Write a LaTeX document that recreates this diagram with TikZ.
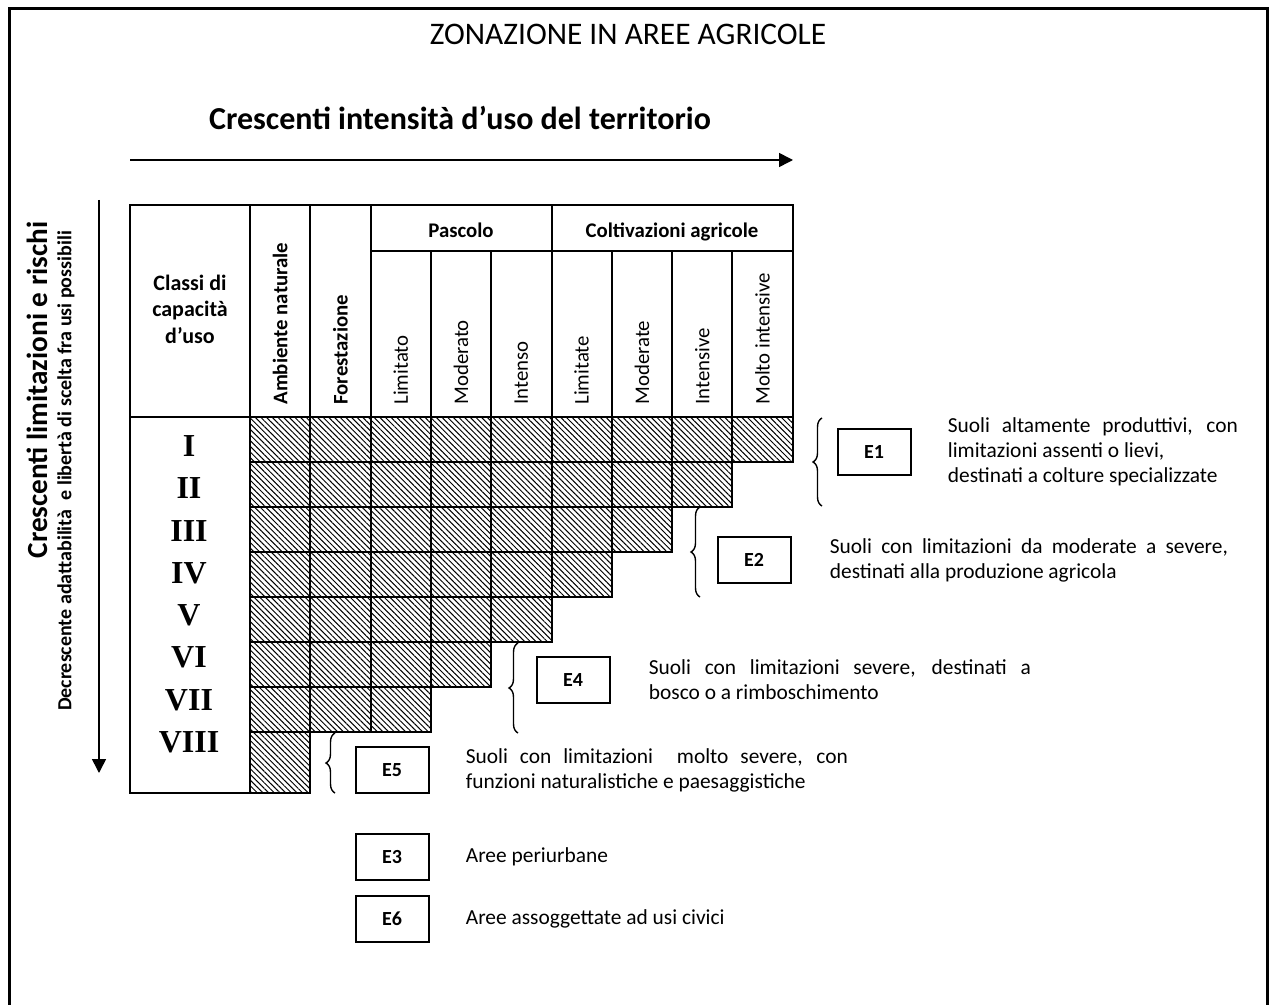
\documentclass[tikz,border=0pt]{standalone}
\usepackage{fontspec}
\setmainfont{Carlito}
\newfontfamily\numfont{Liberation Serif}
\usetikzlibrary{positioning,arrows.meta,patterns.meta,decorations.pathreplacing}

\begin{document}
\begin{tikzpicture}[
    x=0.5pt, y=-0.5pt,
    frame/.style={line width=1.5pt},
    grid/.style={line width=1pt},
    hatch/.style={draw, line width=1pt, pattern={Lines[angle=-45,distance=2pt,line width=0.5pt]}},
    ebox/.style={rectangle, draw, line width=1pt, minimum width=36.5pt, minimum height=23pt, font=\bfseries\fontsize{10}{12}\selectfont},
    desc/.style={align=left, inner sep=0pt, font=\fontsize{10.7}{12.5}\selectfont},
    colhead/.style={rotate=90, anchor=west, inner sep=0pt, font=\fontsize{10.4}{12}\selectfont},
    grouphead/.style={anchor=base, font=\bfseries\fontsize{10.4}{12}\selectfont},
    classnum/.style={font=\numfont\bfseries\fontsize{16}{18}\selectfont},
    bigarrow/.style={-{Triangle[length=7pt,width=7pt]}, line width=0.8pt},
    curly/.style={decorate, decoration={brace, amplitude=4.5pt}, line width=0.7pt}
]
    \useasboundingbox (0,0) rectangle (1270,1005);
    \draw[frame] (9,1005) -- (9,9) -- (1267,9) -- (1267,1005);

    % titles
    \node[font=\fontsize{15.7}{18}\selectfont] (title) at (628,34) {ZONAZIONE IN AREE AGRICOLE};
    \node[font=\bfseries\fontsize{16}{19}\selectfont] (usetitle) at (460,118) {Crescenti intensità d’uso del territorio};
    \node[rotate=90, font=\bfseries\fontsize{14.6}{17}\selectfont] (risk) at (37,390) {Crescenti limitazioni e rischi};
    \node[rotate=90, font=\bfseries\fontsize{10}{12}\selectfont] (choice) at (66,471) {Decrescente adattabilità\ \ e libertà di scelta fra usi possibili};

    % arrows
    \coordinate (hstart) at (130,160);
    \coordinate (hend) at (793,160);
    \coordinate (vstart) at (99,200);
    \coordinate (vend) at (99,773);
    \draw[bigarrow] (hstart) -- (hend);
    \draw[bigarrow] (vstart) -- (vend);

    % hatched cells
    \foreach \row/\ncol in {1/9,2/8,3/7,4/6,5/5,6/4,7/3,8/1} {
        \pgfmathsetmacro\ya{417+45*(\row-1)}
        \pgfmathsetmacro\yb{\row<8 ? 417+45*\row : 793}
        \foreach \c in {1,...,\ncol}
            \draw[hatch] ({250+60.3*(\c-1)},\ya) rectangle ({250+60.3*\c},\yb);
    }

    % table frame
    \draw[grid] (130,205) rectangle (250,793);
    \draw[grid] (130,205) rectangle (793,417);
    \foreach \x in {310.3,370.6,551.5}
        \draw[grid] (\x,205) -- (\x,417);
    \draw[grid] (370.6,251) -- (793,251);
    \foreach \x in {430.9,491.2,611.8,672.1,732.4}
        \draw[grid] (\x,251) -- (\x,417);

    % header
    \node[font=\bfseries\fontsize{11}{13.2}\selectfont, align=center] (classi) at (190,309) {Classi di\\capacità\\d’uso};
    \node[colhead, font=\bfseries\fontsize{10.4}{12}\selectfont] (amb) at (280.15,405) {Ambiente naturale};
    \node[colhead, font=\bfseries\fontsize{10.4}{12}\selectfont] (fore) at (340.45,405) {Forestazione};
    \node[grouphead] (pasc) at (461,238) {Pascolo};
    \node[grouphead] (colt) at (672,238) {Coltivazioni agricole};
    \foreach \lab [count=\i] in {Limitato,Moderato,Intenso,Limitate,Moderate,Intensive,Molto intensive}
        \node[colhead] (sub\i) at ({250+60.3*(\i+1.5)},405) {\lab};

    % classes
    \foreach \num [count=\i] in {I,II,III,IV,V,VI,VII,VIII}
        \node[classnum] (cl\i) at (189,{446+42.3*(\i-1)}) {\num};

    % braces
    \coordinate (b1a) at (822,506); \coordinate (b1b) at (822,418);
    \coordinate (b2a) at (700,597); \coordinate (b2b) at (700,507);
    \coordinate (b4a) at (518,733); \coordinate (b4b) at (518,643);
    \coordinate (b5a) at (335,793); \coordinate (b5b) at (335,733);
    \draw[curly] (b1a) -- (b1b);
    \draw[curly] (b2a) -- (b2b);
    \draw[curly] (b4a) -- (b4b);
    \draw[curly] (b5a) -- (b5b);

    % zones
    \node[ebox] (e1) at (874,452) {E1};
    \node[desc, right=18pt of e1] (d1) {\makebox[145pt][s]{Suoli altamente produttivi, con}\\limitazioni assenti o lievi,\\destinati a colture specializzate};
    \node[ebox] (e2) at (754,560) {E2};
    \node[desc, right=19pt of e2] (d2) {\makebox[199pt][s]{Suoli con limitazioni da moderate a severe,}\\destinati alla produzione agricola};
    \node[ebox] (e4) at (573,680) {E4};
    \node[desc, right=19pt of e4] (d4) {\makebox[191pt][s]{Suoli con limitazioni severe, destinati a}\\bosco o a rimboschimento};
    \node[ebox] (e5) at (392,770) {E5};
    \node[desc, right=18pt of e5] (d5) {\makebox[191pt][s]{Suoli con limitazioni\ \ molto severe, con}\\funzioni naturalistiche e paesaggistiche};
    \node[ebox] (e3) at (392,857) {E3};
    \node[desc, right=18pt of e3] (d3) {Aree periurbane};
    \node[ebox] (e6) at (392,919) {E6};
    \node[desc, right=18pt of e6] (d6) {Aree assoggettate ad usi civici};
\end{tikzpicture}
\end{document}
